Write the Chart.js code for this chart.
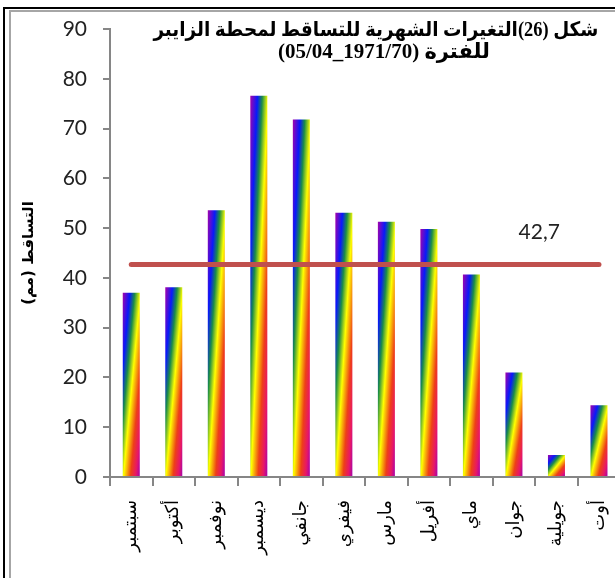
<!DOCTYPE html>
<html lang="ar">
<head>
<meta charset="utf-8">
<script src="https://cdn.jsdelivr.net/npm/chart.js@4/dist/chart.umd.min.js"></script>
<style>
  body { margin: 0; background: #fff; overflow: hidden; width: 615px; height: 578px; position: relative; }
  .cadreNoir { position: absolute; left: 3px; top: 7px; width: 640px; height: 600px; border-top: 2px solid #000; border-left: 2px solid #000; }
  .cadreGris { position: absolute; left: 9px; top: 10px; width: 640px; height: 600px; border-top: 2px solid #a6a6a6; border-left: 2px solid #a6a6a6; }
  #myChartPluie { position: absolute; left: 0; top: 0; }
  .titre { position: absolute; left: 150px; top: 18px; width: 468px; text-align: center; direction: rtl;
    font: bold 20px "Liberation Serif", "DejaVu Sans", serif; line-height: 22px; color: #000; white-space: nowrap; }
  .ligne { display: inline-block; }
  #ligne2 { font-size: 21px; }
  .ltr { direction: ltr; unicode-bidi: isolate; }
</style>
</head>
<body>
<div class="cadreNoir"></div>
<div class="cadreGris"></div>
<canvas id="myChartPluie" dir="rtl" width="635" height="578"></canvas>
<div class="titre"><span class="ligne" id="ligne1">شكل (26)التغيرات الشهرية للتساقط لمحطة الزايبر</span><br><span class="ligne" id="ligne2">للفترة <span class="ltr">(05/04_1971/70)</span></span></div>

<script>
//? Données.

const moisLabels = ["سبتمبر", "أكتوبر", "نوفمبر", "ديسمبر", "جانفي", "فيفري", "مارس", "أفريل", "ماي", "جوان", "جويلية", "أوت"];

const valeursPluie = [37.0, 38.1, 53.6, 76.6, 71.8, 53.1, 51.3, 49.8, 40.7, 21.0, 4.4, 14.4];

const moyennePluie = [42.7, 42.7, 42.7, 42.7, 42.7, 42.7, 42.7, 42.7, 42.7, 42.7, 42.7, 42.7];

const ticksAxeY = [0, 10, 20, 30, 40, 50, 60, 70, 80, 90];

//? -------------------------------------------------

//? Ajustement de la largeur des lignes du titre (police arabe plus large).

const ajusterLigne = (id, largeurVoulue) => {
  const el = document.getElementById(id);
  const largeur = el.getBoundingClientRect().width;
  if (largeur > largeurVoulue) {
    el.style.transform = `scaleX(${largeurVoulue / largeur})`;
  }
};
ajusterLigne("ligne1", 445);
ajusterLigne("ligne2", 228);

//? -------------------------------------------------

//? Dégradé arc-en-ciel (preset Excel) appliqué à chaque barre.

const arretsArcEnCiel = [
  [0, "#A603AB"],
  [0.21, "#0819FB"],
  [0.352, "#1A8D48"],
  [0.52, "#FFFF00"],
  [0.73, "#EE3F17"],
  [0.88, "#E81766"],
  [1, "#A603AB"],
];

const degradeArcEnCiel = {
  id: "degradeArcEnCiel",
  beforeDatasetsDraw(chart) {
    const ctx = chart.ctx;
    const meta = chart.getDatasetMeta(1);
    meta.data.forEach((barre) => {
      const { x, y, base, width } = barre.getProps(["x", "y", "base", "width"], true);
      const gauche = x - width / 2;
      const w = width;
      const h = base - y;
      const d = w * w + h * h;
      // gradient "mis à l'échelle de la forme" : isolignes parallèles à la diagonale
      const grad = ctx.createLinearGradient(gauche, y, gauche + (2 * w * h * h) / d, y + (2 * w * w * h) / d);
      arretsArcEnCiel.forEach(([p, c]) => grad.addColorStop(p, c));
      barre.options = Object.assign({}, barre.options, { backgroundColor: grad });
    });
  },
};

//? Étiquette de la moyenne.

const etiquetteMoyenne = {
  id: "etiquetteMoyenne",
  afterDatasetsDraw(chart) {
    const { ctx } = chart;
    const xs = chart.scales.x;
    const ys = chart.scales.y;
    const x = (xs.getPixelForValue(9) + xs.getPixelForValue(10)) / 2 + 4;
    const y = ys.getPixelForValue(moyennePluie[9]) - 32;
    ctx.save();
    ctx.font = "21px Lato";
    ctx.fillStyle = "#222";
    ctx.textAlign = "center";
    ctx.textBaseline = "middle";
    ctx.fillText(String(moyennePluie[9]).replace(".", ","), x, y);
    ctx.restore();
  },
};

//? -------------------------------------------------

//? Construction du graphique.

const constructionDuGraphique = () => {
  const ctxPluie = document.getElementById("myChartPluie").getContext("2d");
  const gris = "#868686";

  const data = {
    labels: moisLabels,
    datasets: [
      //? Moyenne
      {
        type: "line",
        label: "المعدل",
        data: moyennePluie,
        borderColor: "#C0504D",
        borderWidth: 5,
        borderCapStyle: "round",
        pointRadius: 0,
        fill: false,
        order: 0,
      },
      //? Précipitations
      {
        type: "bar",
        label: "التساقط",
        data: valeursPluie,
        backgroundColor: "#1A8D48",
        borderWidth: 0,
        categoryPercentage: 1,
        barPercentage: 0.4,
        order: 1,
      },
    ],
  };

  const options = {
    responsive: false,
    animation: false,
    devicePixelRatio: 1,
    layout: { padding: { top: 29, right: 10, bottom: 0, left: 0 } },
    plugins: { legend: { display: false }, tooltip: { enabled: false } },
    scales: {
      x: {
        offset: true,
        grid: { offset: true, drawOnChartArea: false, color: gris, lineWidth: 2, tickLength: 9 },
        border: { color: gris, width: 2 },
        ticks: {
          autoSkip: false,
          minRotation: 90,
          maxRotation: 90,
          padding: 14,
          color: "#000",
          font: { family: "DejaVu Sans", size: 18 },
        },
        afterFit: (scale) => { scale.height = 101; },
      },
      y: {
        min: 0,
        max: 90,
        afterBuildTicks: (scale) => { scale.ticks = ticksAxeY.map((v) => ({ value: v })); },
        grid: { drawOnChartArea: false, color: gris, lineWidth: 2, tickLength: 7 },
        border: { color: gris, width: 2 },
        ticks: { padding: 16, color: "#222", font: { family: "Lato", size: 21 } },
        title: {
          display: true,
          text: "التساقط (مم)",
          color: "#000",
          font: { family: "DejaVu Sans", size: 15, weight: "bold" },
          padding: { top: 20, bottom: 0 },
        },
        afterFit: (scale) => { scale.width = 110; },
      },
    },
  };

  new Chart(ctxPluie, { data, options, plugins: [degradeArcEnCiel, etiquetteMoyenne] });
};

constructionDuGraphique();
</script>
</body>
</html>
